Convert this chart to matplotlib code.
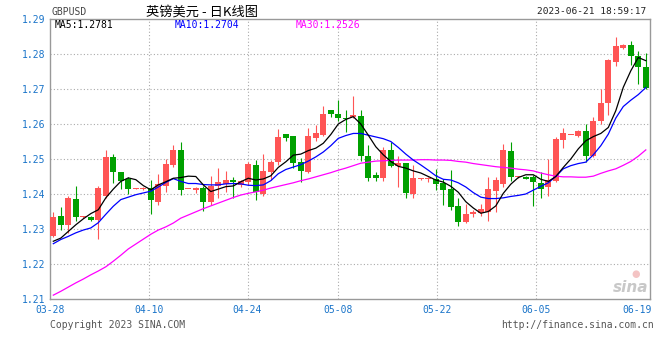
import matplotlib
matplotlib.use("Agg")
import matplotlib.pyplot as plt

plt.rcParams["font.family"] = ["DejaVu Sans Mono", "Noto Sans CJK SC"]

# daily candles, oldest first
opens = [
    1.2279, 1.2338, 1.2312, 1.2386, 1.2333, 1.2334, 1.2325, 1.2393, 1.2505, 1.2462,
    1.2443, 1.2414, 1.2414, 1.2418, 1.2376, 1.2424, 1.2483, 1.2526, 1.2413, 1.2412,
    1.2416, 1.2378, 1.2424, 1.2430, 1.2440, 1.2426, 1.2434, 1.2484, 1.2400, 1.2464,
    1.2492, 1.2571, 1.2567, 1.2492, 1.2464, 1.2560, 1.2569, 1.2641, 1.2630, 1.2618,
    1.2621, 1.2624, 1.2510, 1.2455, 1.2445, 1.2527, 1.2479, 1.2488, 1.2400, 1.2443,
    1.2444, 1.2443, 1.2430, 1.2413, 1.2367, 1.2319, 1.2343, 1.2346, 1.2350, 1.2410,
    1.2430, 1.2524, 1.2448, 1.2449, 1.2448, 1.2431, 1.2419, 1.2436, 1.2555, 1.2568,
    1.2567, 1.2581, 1.2510, 1.2610, 1.2659, 1.2778, 1.2817, 1.2827, 1.2795, 1.2764,
]
highs = [
    1.2350, 1.2363, 1.2395, 1.2424, 1.2336, 1.2338, 1.2424, 1.2527, 1.2515, 1.2463,
    1.2449, 1.2416, 1.2420, 1.2439, 1.2456, 1.2500, 1.2540, 1.2548, 1.2415, 1.2420,
    1.2424, 1.2451, 1.2475, 1.2466, 1.2450, 1.2440, 1.2492, 1.2498, 1.2514, 1.2498,
    1.2586, 1.2571, 1.2567, 1.2502, 1.2589, 1.2597, 1.2652, 1.2641, 1.2670, 1.2641,
    1.2680, 1.2641, 1.2541, 1.2462, 1.2535, 1.2548, 1.2510, 1.2490, 1.2484, 1.2446,
    1.2449, 1.2471, 1.2443, 1.2470, 1.2389, 1.2371, 1.2355, 1.2372, 1.2450, 1.2449,
    1.2543, 1.2548, 1.2450, 1.2451, 1.2455, 1.2462, 1.2500, 1.2562, 1.2589, 1.2570,
    1.2584, 1.2600, 1.2621, 1.2700, 1.2786, 1.2850, 1.2830, 1.2838, 1.2810, 1.2802,
]
lows = [
    1.2277, 1.2298, 1.2290, 1.2322, 1.2332, 1.2322, 1.2271, 1.2389, 1.2431, 1.2415,
    1.2400, 1.2414, 1.2412, 1.2343, 1.2369, 1.2407, 1.2478, 1.2397, 1.2413, 1.2404,
    1.2351, 1.2369, 1.2390, 1.2405, 1.2390, 1.2419, 1.2426, 1.2383, 1.2395, 1.2441,
    1.2483, 1.2552, 1.2474, 1.2433, 1.2460, 1.2552, 1.2566, 1.2619, 1.2609, 1.2576,
    1.2617, 1.2495, 1.2438, 1.2438, 1.2438, 1.2476, 1.2421, 1.2388, 1.2388, 1.2441,
    1.2433, 1.2411, 1.2370, 1.2353, 1.2308, 1.2317, 1.2333, 1.2338, 1.2324, 1.2348,
    1.2420, 1.2438, 1.2447, 1.2442, 1.2367, 1.2389, 1.2393, 1.2433, 1.2531, 1.2568,
    1.2562, 1.2492, 1.2507, 1.2599, 1.2627, 1.2767, 1.2814, 1.2770, 1.2714, 1.2700,
]
closes = [
    1.2334, 1.2312, 1.2389, 1.2333, 1.2335, 1.2325, 1.2417, 1.2505, 1.2462, 1.2436,
    1.2415, 1.2415, 1.2418, 1.2382, 1.2428, 1.2485, 1.2526, 1.2411, 1.2414, 1.2418,
    1.2376, 1.2424, 1.2433, 1.2440, 1.2433, 1.2437, 1.2485, 1.2405, 1.2467, 1.2492,
    1.2562, 1.2560, 1.2490, 1.2467, 1.2567, 1.2573, 1.2630, 1.2630, 1.2616, 1.2615,
    1.2626, 1.2508, 1.2445, 1.2445, 1.2527, 1.2479, 1.2488, 1.2402, 1.2445, 1.2444,
    1.2446, 1.2430, 1.2411, 1.2363, 1.2319, 1.2344, 1.2350, 1.2357, 1.2415, 1.2441,
    1.2527, 1.2448, 1.2449, 1.2444, 1.2433, 1.2415, 1.2441, 1.2557, 1.2574, 1.2569,
    1.2579, 1.2508, 1.2610, 1.2660, 1.2784, 1.2822, 1.2827, 1.2793, 1.2762, 1.2703,
]

ma5 = [
    1.2265, 1.2274, 1.2293, 1.2312, 1.2329, 1.2344, 1.2355, 1.2389, 1.2414, 1.2436,
    1.2446, 1.2441, 1.2424, 1.2412, 1.2426, 1.2435, 1.2445, 1.2447, 1.2451, 1.2450,
    1.2426, 1.2407, 1.2414, 1.2421, 1.2423, 1.2435, 1.2445, 1.2440, 1.2443, 1.2452,
    1.2476, 1.2492, 1.2511, 1.2514, 1.2524, 1.2531, 1.2545, 1.2570, 1.2600, 1.2613,
    1.2621, 1.2600, 1.2568, 1.2535, 1.2512, 1.2493, 1.2479, 1.2474, 1.2466, 1.2460,
    1.2450, 1.2440, 1.2434, 1.2422, 1.2405, 1.2378, 1.2360, 1.2345, 1.2350, 1.2366,
    1.2402, 1.2428, 1.2447, 1.2455, 1.2455, 1.2442, 1.2436, 1.2450, 1.2476, 1.2500,
    1.2529, 1.2552, 1.2564, 1.2573, 1.2590, 1.2638, 1.2705, 1.2752, 1.2790, 1.2781,
]
ma10 = [
    1.2258, 1.2270, 1.2279, 1.2289, 1.2297, 1.2303, 1.2318, 1.2342, 1.2365, 1.2384,
    1.2391, 1.2398, 1.2403, 1.2408, 1.2420, 1.2433, 1.2444, 1.2436, 1.2430, 1.2430,
    1.2427, 1.2426, 1.2426, 1.2429, 1.2430, 1.2429, 1.2425, 1.2424, 1.2426, 1.2438,
    1.2458, 1.2470, 1.2477, 1.2484, 1.2494, 1.2506, 1.2520, 1.2538, 1.2559, 1.2567,
    1.2573, 1.2573, 1.2568, 1.2563, 1.2558, 1.2550, 1.2533, 1.2514, 1.2497, 1.2483,
    1.2468, 1.2452, 1.2442, 1.2440, 1.2432, 1.2420, 1.2404, 1.2391, 1.2387, 1.2387,
    1.2389, 1.2393, 1.2396, 1.2400, 1.2411, 1.2422, 1.2432, 1.2450, 1.2472, 1.2481,
    1.2487, 1.2491, 1.2512, 1.2538, 1.2571, 1.2617, 1.2650, 1.2668, 1.2684, 1.2704,
]
ma30 = [
    1.2111, 1.2122, 1.2134, 1.2146, 1.2157, 1.2169, 1.2180, 1.2192, 1.2208, 1.2225,
    1.2243, 1.2257, 1.2271, 1.2285, 1.2297, 1.2306, 1.2317, 1.2331, 1.2340, 1.2349,
    1.2358, 1.2366, 1.2374, 1.2382, 1.2390, 1.2397, 1.2402, 1.2406, 1.2411, 1.2417,
    1.2422, 1.2427, 1.2432, 1.2438, 1.2443, 1.2449, 1.2455, 1.2461, 1.2468, 1.2474,
    1.2481, 1.2488, 1.2491, 1.2494, 1.2495, 1.2496, 1.2497, 1.2497, 1.2497, 1.2498,
    1.2498, 1.2497, 1.2497, 1.2496, 1.2493, 1.2491, 1.2487, 1.2484, 1.2481, 1.2478,
    1.2476, 1.2474, 1.2471, 1.2469, 1.2466, 1.2460, 1.2455, 1.2451, 1.2449, 1.2449,
    1.2448, 1.2448, 1.2451, 1.2459, 1.2466, 1.2472, 1.2482, 1.2493, 1.2508, 1.2526,
]

date_labels = ["03-28", "04-10", "04-24", "05-08", "05-22", "06-05", "06-19"]
date_pos = [-0.44, 12.8, 25.9, 38.0, 51.2, 64.4, 77.8]
price_ticks = [1.21, 1.22, 1.23, 1.24, 1.25, 1.26, 1.27, 1.28, 1.29]

UP = "#ff5555"
DOWN = "#00a000"
BLUE_TXT = "#1a74c9"
W, H = 660, 360

fig = plt.figure(figsize=(W / 100, H / 100), dpi=100)
ax = fig.add_axes([50 / W, 61 / H, 600 / W, 280 / H])

# candles
for i in range(len(closes)):
    o, h, l, c = opens[i], highs[i], lows[i], closes[i]
    col = UP if c >= o else DOWN
    ax.vlines(i, l, h, color=col, linewidth=0.8, zorder=2)
    body = max(abs(c - o), 0.0003)
    ax.bar(i, body, bottom=min(o, c), width=0.8, color=col,
           linewidth=0, zorder=3)

xs = list(range(len(closes)))
ax.plot(xs, ma30, color="#ff00ff", linewidth=0.9, zorder=4)
ax.plot(xs, ma10, color="#0000ff", linewidth=0.9, zorder=5)
ax.plot(xs, ma5, color="#000000", linewidth=0.9, zorder=6)

ax.set_xlim(-0.44, 79.56)
ax.set_ylim(1.21, 1.29)

# grid
for p in price_ticks[1:-1]:
    ax.axhline(p, color="#aaaaaa", linewidth=0.8, linestyle=(0, (1, 2)), zorder=1)
for p in date_pos[1:-1]:
    ax.axvline(p, color="#aaaaaa", linewidth=0.8, linestyle=(0, (1, 2)), zorder=1)

for s in ax.spines.values():
    s.set_color("#999999")
    s.set_linewidth(1.0)

ax.set_yticks(price_ticks)
ax.set_yticklabels([f"{p:.2f}" for p in price_ticks])
ax.set_xticks(date_pos)
ax.set_xticklabels(date_labels)
ax.tick_params(axis="both", length=0, labelsize=7, labelcolor=BLUE_TXT)
ax.tick_params(axis="y", pad=3)
ax.tick_params(axis="x", pad=4)

# header
fig.text(52 / W, 1 - 12 / H, "GBPUSD", fontsize=7, color="#444444",
         ha="left", va="center")
fig.text(202 / W, 1 - 12 / H, "英镑美元 - 日K线图", fontsize=9.5,
         color="#000000", ha="center", va="center",
         family=["Noto Sans CJK SC", "DejaVu Sans"])
fig.text(646 / W, 1 - 12 / H, "2023-06-21 18:59:17", fontsize=6.8,
         color="#222222", ha="right", va="center")

# moving average legend row
fig.text(55 / W, 1 - 25 / H, "MA5:1.2781", fontsize=7, color="#000000",
         ha="left", va="center")
fig.text(175 / W, 1 - 25 / H, "MA10:1.2704", fontsize=7, color="#0000ff",
         ha="left", va="center")
fig.text(296 / W, 1 - 25 / H, "MA30:1.2526", fontsize=7, color="#ff00ff",
         ha="left", va="center")

# footer
fig.text(50 / W, 1 - 325 / H, "Copyright 2023 SINA.COM", fontsize=7,
         color="#555555", ha="left", va="center")
fig.text(654 / W, 1 - 325 / H, "http://finance.sina.com.cn", fontsize=7,
         color="#555555", ha="right", va="center")

# watermark
fig.text(648 / W, 1 - 288 / H, "sina", fontsize=11, color="#c8c8c8",
         fontweight="bold", style="italic", ha="right", va="center",
         family="DejaVu Sans")
fig.text(636 / W, 1 - 274 / H, "●", fontsize=7, color="#f4c4c4",
         ha="center", va="center", family="DejaVu Sans")

fig.savefig("out.png", dpi=100)
